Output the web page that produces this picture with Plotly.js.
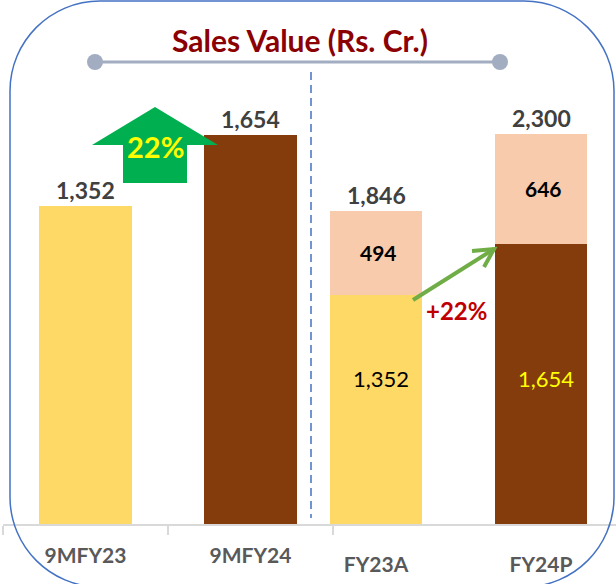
<!DOCTYPE html>
<html>
<head>
<meta charset="utf-8">
<script src="https://cdn.plot.ly/plotly-3.0.1.min.js"></script>
<style>html,body{margin:0;padding:0;background:#fff;}#chart{width:616px;height:584px;}</style>
</head>
<body>
<div id="chart"></div>
<script>
// ---- data ----
const chartTitle = 'Sales Value (Rs. Cr.)';
const leftCategories = ['9MFY23', '9MFY24'];
const leftValues = [1352, 1654];
const rightCategories = ['FY23A', 'FY24P'];
const rightBaseValues = [1352, 1654];
const rightIncrementValues = [494, 646];
const blockArrowLabel = '22%';
const growthLabel = '+22%';

// ---- styles ----
const W = 616, H = 584;
const FONT = 'Lato, "Open Sans", sans-serif';
const YELLOW = '#FFD966', BROWN = '#843C0C', PEACH = '#F8CBAD';
const baseColors = [YELLOW, BROWN];
const px = x => x / W;
const py = y => 1 - y / H;
const fmt = v => v.toLocaleString('en-US');

const traces = [
  {type: 'bar', x: leftCategories, y: leftValues, xaxis: 'x', yaxis: 'y',
   marker: {color: baseColors}, width: 0.564, hoverinfo: 'skip'},
  {type: 'bar', x: rightCategories, y: rightBaseValues, xaxis: 'x2', yaxis: 'y2',
   marker: {color: baseColors}, width: 0.56, hoverinfo: 'skip'},
  {type: 'bar', x: rightCategories, y: rightIncrementValues, xaxis: 'x2', yaxis: 'y2',
   marker: {color: PEACH}, width: 0.56, hoverinfo: 'skip'}
];

const annotations = [];
const totalFont = {family: FONT, size: 23, color: '#404040', weight: 'bold'};
leftCategories.forEach((c, i) => {
  annotations.push({x: c, y: leftValues[i], xref: 'x', yref: 'y', text: fmt(leftValues[i]),
    showarrow: false, xanchor: 'center', yanchor: 'middle', yshift: 16, font: totalFont});
});
const rightTotals = rightBaseValues.map((v, i) => v + rightIncrementValues[i]);
const baseShift = [31, 5];
const baseTextColors = ['#000000', '#FFFF00'];
rightCategories.forEach((c, i) => {
  annotations.push({x: c, y: rightTotals[i], xref: 'x2', yref: 'y2', text: fmt(rightTotals[i]),
    showarrow: false, xanchor: 'center', yanchor: 'middle', yshift: 16, font: totalFont});
  annotations.push({x: c, y: rightBaseValues[i] + rightIncrementValues[i] / 2, xref: 'x2', yref: 'y2',
    text: fmt(rightIncrementValues[i]), showarrow: false, xanchor: 'center', yanchor: 'middle', xshift: 2,
    font: {family: FONT, size: 21, color: '#000000', weight: 'bold'}});
  annotations.push({x: c, y: rightBaseValues[i] / 2, xref: 'x2', yref: 'y2', yshift: baseShift[i],
    text: fmt(rightBaseValues[i]), showarrow: false, xanchor: 'center', yanchor: 'middle', xshift: 5,
    font: {family: FONT, size: 22, color: baseTextColors[i]}});
});
annotations.push({x: px(155), y: py(147), xref: 'paper', yref: 'paper', text: blockArrowLabel,
  xanchor: 'center', yanchor: 'middle',
  showarrow: false, font: {family: FONT, size: 29, color: '#FFFF00', weight: 'bold'}});
annotations.push({x: px(456), y: py(310), xref: 'paper', yref: 'paper', text: growthLabel,
  xanchor: 'center', yanchor: 'middle',
  showarrow: false, font: {family: FONT, size: 24, color: '#C00000', weight: 'bold'}});

function pathOf(points, close) {
  return points.map((p, i) => (i ? 'L' : 'M') + px(p[0]).toFixed(5) + ',' + py(p[1]).toFixed(5)).join(' ') + (close ? ' Z' : '');
}
// rounded border
const L = 10, R = 614, T = 1, B = 587, r = 90;
const k = 0.5523 * r;
const borderPath = [
  `M${px(L + r)},${py(T)}`,
  `L${px(R - r)},${py(T)}`,
  `C${px(R - r + k)},${py(T)} ${px(R)},${py(T + r - k)} ${px(R)},${py(T + r)}`,
  `L${px(R)},${py(B - r)}`,
  `C${px(R)},${py(B - r + k)} ${px(R - r + k)},${py(B)} ${px(R - r)},${py(B)}`,
  `L${px(L + r)},${py(B)}`,
  `C${px(L + r - k)},${py(B)} ${px(L)},${py(B - r + k)} ${px(L)},${py(B - r)}`,
  `L${px(L)},${py(T + r)}`,
  `C${px(L)},${py(T + r - k)} ${px(L + r - k)},${py(T)} ${px(L + r)},${py(T)} Z`
].join(' ');

const GREYBLUE = '#A2ADC1';
const shapes = [
  {type: 'path', xref: 'paper', yref: 'paper', path: borderPath, line: {color: '#4472C4', width: 1.5}},
  {type: 'line', xref: 'paper', yref: 'paper', x0: px(95), x1: px(500), y0: py(62), y1: py(62),
   line: {color: GREYBLUE, width: 3}},
  {type: 'circle', xref: 'paper', yref: 'paper', x0: px(87), x1: px(103), y0: py(54), y1: py(70),
   fillcolor: GREYBLUE, line: {width: 0}},
  {type: 'circle', xref: 'paper', yref: 'paper', x0: px(492), x1: px(508), y0: py(54), y1: py(70),
   fillcolor: GREYBLUE, line: {width: 0}},
  {type: 'line', xref: 'paper', yref: 'paper', x0: px(311), x1: px(311), y0: py(72), y1: py(518),
   line: {color: '#4472C4', width: 1.5, dash: '8px,5px'}},
  {type: 'path', xref: 'paper', yref: 'paper', fillcolor: '#00B050', line: {width: 0},
   path: pathOf([[155, 107], [218, 145], [187, 145], [187, 183], [123, 183], [123, 145], [92, 145]], true)},
  {type: 'path', xref: 'paper', yref: 'paper', line: {color: '#70AD47', width: 4},
   path: pathOf([[413, 300], [494, 249]], false)},
  {type: 'path', xref: 'paper', yref: 'paper', line: {color: '#70AD47', width: 4},
   path: pathOf([[472, 251], [494, 249], [484, 267]], false)}
];

const tickFont = {family: FONT, size: 21, color: '#595959', weight: 'bold'};
const yDomain = [60 / H, 1];
const layout = {
  width: W, height: H,
  margin: {l: 0, r: 0, t: 0, b: 0},
  paper_bgcolor: '#ffffff', plot_bgcolor: 'rgba(0,0,0,0)',
  showlegend: false, barmode: 'stack',
  title: {text: chartTitle, x: px(300), xanchor: 'center', y: py(41), yanchor: 'middle', yref: 'container',
    font: {family: FONT, size: 30, color: '#8B0000', weight: 'bold'}},
  xaxis: {type: 'category', domain: [px(3), px(333)], range: [-0.5, 1.5], anchor: 'y',
    showline: true, linecolor: '#D9D9D9', linewidth: 2, ticks: 'outside', tickson: 'boundaries',
    ticklen: 9, tickwidth: 2, tickcolor: '#D9D9D9', tickfont: tickFont, ticklabelstandoff: 12,
    showgrid: false, zeroline: false, fixedrange: true},
  yaxis: {domain: yDomain, range: [0, 2230], visible: false, fixedrange: true, anchor: 'x'},
  xaxis2: {type: 'category', domain: [px(3), 1], range: [(3 - 376) / 165, (616 - 376) / 165], anchor: 'y2',
    showline: true, linecolor: '#D9D9D9', linewidth: 2, ticks: 'outside', ticklen: 9,
    tickcolor: 'rgba(0,0,0,0)', tickfont: tickFont, ticklabelstandoff: 12,
    showgrid: false, zeroline: false, fixedrange: true},
  yaxis2: {domain: yDomain, range: [0, 3091], visible: false, fixedrange: true, anchor: 'x2'},
  annotations: annotations,
  shapes: shapes
};

Plotly.newPlot('chart', traces, layout, {displayModeBar: false, staticPlot: true});
</script>
</body>
</html>
